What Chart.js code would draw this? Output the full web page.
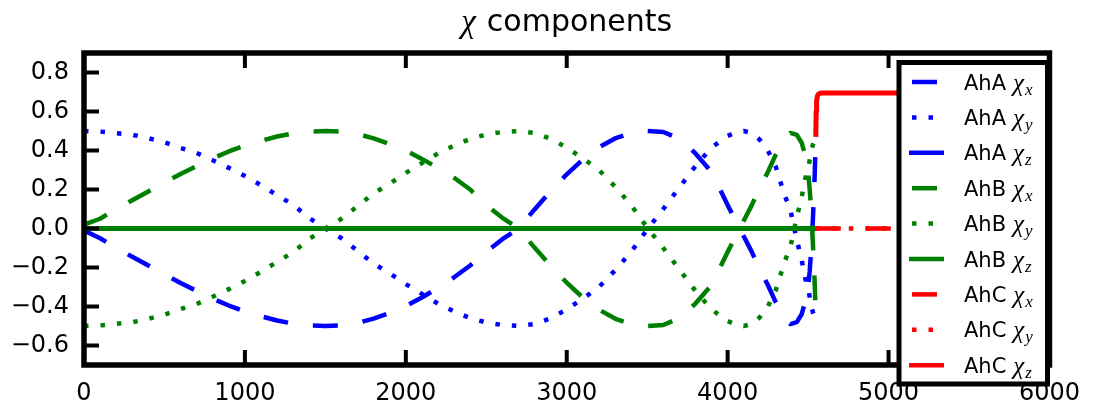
<!DOCTYPE html>
<html>
<head>
<meta charset="utf-8">
<script src="https://cdn.jsdelivr.net/npm/chart.js@4.4.0/dist/chart.umd.min.js"></script>
<style>
  html, body { margin: 0; padding: 0; background: #fff; }
  canvas { display: block; }
</style>
</head>
<body>
<canvas id="chi" width="1094" height="405"></canvas>
<script>
// Sample steps shared by the AhA and AhB components
const steps = [
  0, 100, 200, 300, 400, 500, 600, 700, 800, 900,
  1000, 1100, 1200, 1300, 1400, 1500, 1600, 1700, 1800, 1900,
  2000, 2100, 2200, 2300, 2400, 2500, 2600, 2700, 2800, 2900,
  3000, 3100, 3200, 3300, 3400, 3500, 3600, 3700, 3800, 3900,
  4000, 4050, 4100, 4150, 4200, 4250, 4300, 4350, 4390, 4430,
  4460, 4480, 4500, 4510, 4520, 4530, 4540, 4548
];

const ahaX = [
  -0.01, -0.05, -0.10, -0.145, -0.19, -0.235, -0.28, -0.32, -0.36, -0.395,
  -0.425, -0.45, -0.472, -0.488, -0.497, -0.5, -0.497, -0.485, -0.462, -0.433,
  -0.397, -0.354, -0.304, -0.25, -0.19, -0.12, -0.055, 0.0, 0.098, 0.191,
  0.278, 0.354, 0.416, 0.462, 0.49, 0.5, 0.495, 0.46, 0.385, 0.29,
  0.12, 0.04, -0.04, -0.12, -0.21, -0.29, -0.38, -0.45, -0.49, -0.48,
  -0.44, -0.38, -0.30, -0.22, -0.10, 0.05, 0.25, 0.46
];
const ahaY = [
  0.5, 0.497, 0.489, 0.481, 0.463, 0.442, 0.413, 0.387, 0.35, 0.311,
  0.269, 0.222, 0.171, 0.122, 0.053, 0.0, -0.05, -0.115, -0.18, -0.23,
  -0.285, -0.335, -0.385, -0.425, -0.46, -0.482, -0.495, -0.5, -0.49, -0.46,
  -0.415, -0.36, -0.30, -0.215, -0.12, -0.005, 0.10, 0.21, 0.32, 0.415,
  0.475, 0.492, 0.5, 0.49, 0.455, 0.40, 0.315, 0.18, 0.095, -0.06,
  -0.16, -0.25, -0.31, -0.35, -0.40, -0.43, -0.45, -0.46
];
const ahaZ = [
  0, 0, 0, 0, 0, 0, 0, 0, 0, 0,
  0, 0, 0, 0, 0, 0, 0, 0, 0, 0,
  0, 0, 0, 0, 0, 0, 0, 0, 0, 0,
  0, 0, 0, 0, 0, 0, 0, 0, 0, 0,
  0, 0, 0, 0, 0, 0, 0, 0, 0, 0,
  0, 0, 0, 0, 0, 0, 0, 0
];

const ahbX = [
  0.02, 0.05, 0.10, 0.145, 0.19, 0.235, 0.28, 0.32, 0.36, 0.395,
  0.425, 0.45, 0.472, 0.488, 0.497, 0.5, 0.497, 0.485, 0.462, 0.433,
  0.40, 0.357, 0.31, 0.26, 0.20, 0.12, 0.055, 0.0, -0.098, -0.191,
  -0.278, -0.354, -0.416, -0.462, -0.49, -0.5, -0.495, -0.46, -0.385, -0.29,
  -0.12, -0.04, 0.04, 0.12, 0.21, 0.29, 0.38, 0.45, 0.49, 0.48,
  0.44, 0.38, 0.29, 0.20, 0.08, -0.08, -0.26, -0.45
];
const ahbY = [
  -0.5, -0.497, -0.489, -0.481, -0.463, -0.442, -0.413, -0.387, -0.35, -0.311,
  -0.269, -0.222, -0.171, -0.122, -0.053, 0.0, 0.05, 0.115, 0.18, 0.23,
  0.285, 0.335, 0.385, 0.425, 0.46, 0.482, 0.495, 0.5, 0.49, 0.46,
  0.415, 0.36, 0.30, 0.215, 0.12, 0.005, -0.10, -0.21, -0.32, -0.415,
  -0.475, -0.492, -0.5, -0.49, -0.455, -0.40, -0.315, -0.18, -0.095, 0.06,
  0.16, 0.25, 0.31, 0.35, 0.40, 0.43, 0.45, 0.46
];
const ahbZ = [
  0, 0, 0, 0, 0, 0, 0, 0, 0, 0,
  0, 0, 0, 0, 0, 0, 0, 0, 0, 0,
  0, 0, 0, 0, 0, 0, 0, 0, 0, 0,
  0, 0, 0, 0, 0, 0, 0, 0, 0, 0,
  0, 0, 0, 0, 0, 0, 0, 0, 0, 0,
  0, 0, 0, 0, 0, 0, 0, 0
];

// AhC only exists from the switch-over onwards
const ahcSteps = [4548, 4550, 4553, 4558, 4565, 4580, 5000, 5500, 6000];
const ahcX = [0, 0, 0, 0, 0, 0, 0, 0, 0];
const ahcY = [0, 0, 0, 0, 0, 0, 0, 0, 0];
const ahcZ = [0.47, 0.60, 0.655, 0.68, 0.69, 0.695, 0.695, 0.695, 0.695];

const xTicks = [0, 1000, 2000, 3000, 4000, 5000, 6000];
const yTicks = [-0.6, -0.4, -0.2, 0.0, 0.2, 0.4, 0.6, 0.8];

const BLUE = '#0000ff', GREEN = '#008000', RED = '#ff0000';
const DASHES = { dashed: [25, 25], dotted: [4.5, 12], solid: [] };

const seriesDefs = [
  { group: 'AhA', comp: 'x', color: BLUE,  style: 'dashed', xs: steps,    ys: ahaX },
  { group: 'AhA', comp: 'y', color: BLUE,  style: 'dotted', xs: steps,    ys: ahaY },
  { group: 'AhA', comp: 'z', color: BLUE,  style: 'solid',  xs: steps,    ys: ahaZ },
  { group: 'AhB', comp: 'x', color: GREEN, style: 'dashed', xs: steps,    ys: ahbX },
  { group: 'AhB', comp: 'y', color: GREEN, style: 'dotted', xs: steps,    ys: ahbY },
  { group: 'AhB', comp: 'z', color: GREEN, style: 'solid',  xs: steps,    ys: ahbZ },
  { group: 'AhC', comp: 'x', color: RED,   style: 'dashed', xs: ahcSteps, ys: ahcX },
  { group: 'AhC', comp: 'y', color: RED,   style: 'dotted', xs: ahcSteps, ys: ahcY },
  { group: 'AhC', comp: 'z', color: RED,   style: 'solid',  xs: ahcSteps, ys: ahcZ }
];

const datasets = seriesDefs.map((s, i) => ({
  label: s.group + ' χ' + s.comp,
  group: s.group,
  comp: s.comp,
  lineStyle: s.style,
  data: s.xs.map((x, k) => ({ x: x, y: s.ys[k] })),
  borderColor: s.color,
  backgroundColor: s.color,
  borderWidth: s.style === 'solid' ? 5 : 4.5,
  borderDash: DASHES[s.style],
  borderCapStyle: 'butt',
  borderJoinStyle: 'round',
  pointRadius: 0,
  tension: 0,
  fill: false,
  // later series are painted on top of earlier ones
  order: seriesDefs.length - i
}));

const TICK_FONT = { family: '"DejaVu Sans", sans-serif', size: 24 };

function fmtY(v) {
  return v.toFixed(1).replace('-', '\u2212');
}

// Axes box with inward ticks on all four sides
const framePlugin = {
  id: 'frame',
  afterDatasetsDraw(chart) {
    const { ctx, chartArea: a, scales } = chart;
    ctx.save();
    ctx.strokeStyle = '#000';
    ctx.lineCap = 'butt';
    ctx.lineWidth = 4;
    const len = 15;
    ctx.beginPath();
    xTicks.forEach(v => {
      const px = scales.x.getPixelForValue(v);
      ctx.moveTo(px, a.top); ctx.lineTo(px, a.top + len);
      ctx.moveTo(px, a.bottom); ctx.lineTo(px, a.bottom - len);
    });
    yTicks.forEach(v => {
      const py = scales.y.getPixelForValue(v);
      ctx.moveTo(a.left, py); ctx.lineTo(a.left + len, py);
      ctx.moveTo(a.right, py); ctx.lineTo(a.right - len, py);
    });
    ctx.stroke();
    ctx.lineWidth = 5.5;
    ctx.lineJoin = 'miter';
    ctx.strokeRect(a.left, a.top, a.right - a.left, a.bottom - a.top);
    ctx.restore();
  }
};

// Title and framed legend with math-style χ labels
const overlayPlugin = {
  id: 'overlay',
  afterDraw(chart) {
    const { ctx, chartArea: a } = chart;
    ctx.save();

    // title
    const chiFont = 'italic 33px "Liberation Serif", serif';
    const titleFont = '30px "DejaVu Sans", sans-serif';
    ctx.font = chiFont;
    const wChi = ctx.measureText('\u03c7').width;
    ctx.font = titleFont;
    const wWord = ctx.measureText('components').width;
    const gap = 11;
    const total = wChi + gap + wWord;
    let tx = (a.left + a.right) / 2 - total / 2;
    ctx.fillStyle = '#000';
    ctx.textBaseline = 'alphabetic';
    ctx.textAlign = 'left';
    ctx.font = chiFont;
    ctx.fillText('\u03c7', tx, 32);
    ctx.font = titleFont;
    ctx.fillText('components', tx + wChi + gap, 31);

    // legend box
    const box = { x: 899, y: 62.5, w: 148.5, h: 321.5 };
    ctx.fillStyle = '#fff';
    ctx.fillRect(box.x, box.y, box.w, box.h);
    ctx.strokeStyle = '#000';
    ctx.lineWidth = 5;
    ctx.strokeRect(box.x, box.y, box.w, box.h);

    const row0 = 82, rowStep = 35.4;
    chart.data.datasets.forEach((ds, i) => {
      const ry = row0 + i * rowStep;
      ctx.save();
      ctx.strokeStyle = ds.borderColor;
      ctx.lineWidth = 4.5;
      ctx.lineCap = 'butt';
      ctx.setLineDash(ds.borderDash || []);
      ctx.beginPath();
      if (ds.lineStyle === 'solid') {
        ctx.moveTo(909, ry); ctx.lineTo(944, ry);
      } else {
        ctx.moveTo(912, ry); ctx.lineTo(944, ry);
      }
      ctx.stroke();
      ctx.restore();

      ctx.fillStyle = '#000';
      ctx.font = '21px "DejaVu Sans", sans-serif';
      const base = ry + 7.5;
      ctx.fillText(ds.group, 964, base);
      let x = 964 + ctx.measureText(ds.group).width + 7;
      ctx.font = 'italic 25px "Liberation Serif", serif';
      ctx.fillText('\u03c7', x, base + 1);
      x += ctx.measureText('\u03c7').width + 1;
      ctx.font = 'italic 17px "Liberation Serif", serif';
      ctx.fillText(ds.comp, x, base + 5);
    });
    ctx.restore();
  }
};

new Chart(document.getElementById('chi'), {
  type: 'line',
  data: { datasets: datasets },
  options: {
    responsive: false,
    animation: false,
    devicePixelRatio: 1,
    layout: { padding: { top: 53, right: 37, left: 0, bottom: 0 } },
    plugins: {
      legend: { display: false },
      title: { display: false },
      tooltip: { enabled: false }
    },
    scales: {
      x: {
        type: 'linear',
        min: 0,
        max: 6000,
        grid: { display: false, drawTicks: false },
        border: { display: false },
        afterBuildTicks: s => { s.ticks = xTicks.map(v => ({ value: v })); },
        afterFit: s => { s.height = 40; },
        ticks: {
          color: '#000',
          font: TICK_FONT,
          padding: 14,
          maxRotation: 0,
          autoSkip: false,
          callback: v => String(v)
        }
      },
      y: {
        type: 'linear',
        min: -0.7,
        max: 0.9,
        grid: { display: false, drawTicks: false },
        border: { display: false },
        afterBuildTicks: s => { s.ticks = yTicks.map(v => ({ value: v })); },
        afterFit: s => { s.width = 84; },
        ticks: {
          color: '#000',
          font: TICK_FONT,
          padding: 15,
          autoSkip: false,
          callback: v => fmtY(v)
        }
      }
    }
  },
  plugins: [framePlugin, overlayPlugin]
});
</script>
</body>
</html>
